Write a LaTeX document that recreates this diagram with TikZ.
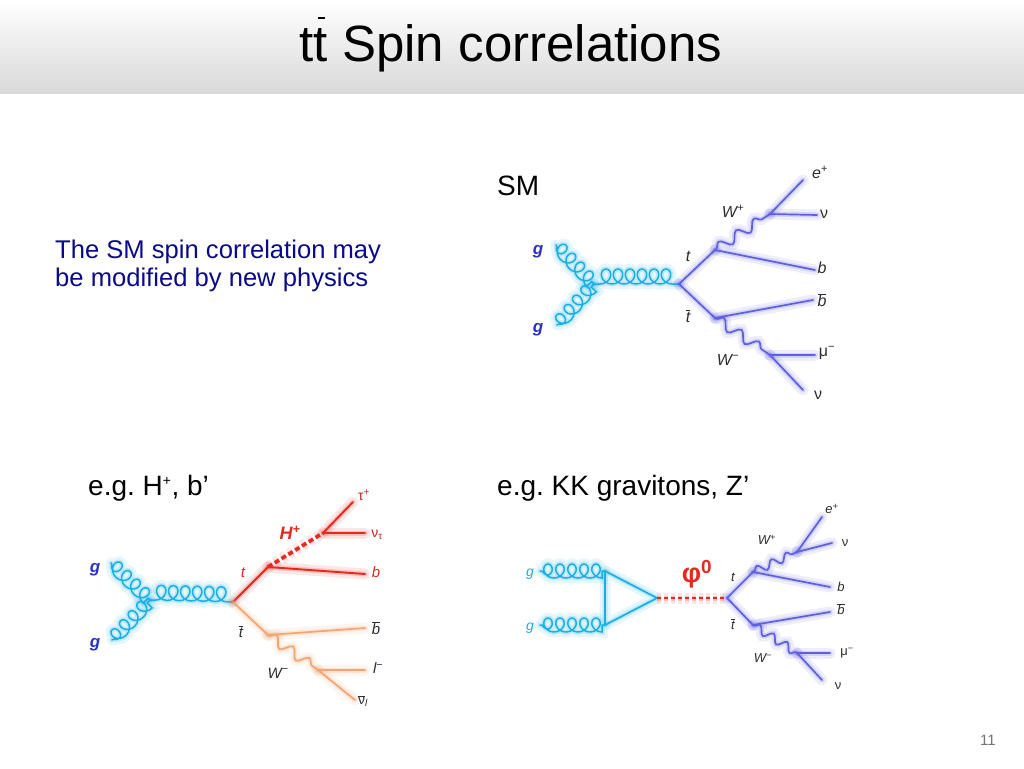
\documentclass[tikz,border=0pt]{standalone}
\usepackage{fontspec}
\setmainfont{Liberation Sans}
\usetikzlibrary{decorations}
\definecolor{navy}{RGB}{10,10,140}
\definecolor{fblue}{RGB}{95,95,225}
\definecolor{fcyan}{RGB}{25,175,230}
\definecolor{fred}{RGB}{230,40,30}
\definecolor{forange}{RGB}{242,165,115}
\definecolor{glab}{RGB}{40,50,200}
\definecolor{tgray}{RGB}{45,45,45}
\newcommand\ovl[1]{\ensuremath{\overline{\hbox{#1}}}}
\newcommand\tbr{\rlap{\hspace{0.07em}\rule[0.82em]{0.14em}{0.045em}}t}
\newcommand\gdraw[2]{\draw[#1,glowA]#2;\draw[#1,glowB]#2;\draw[#1]#2;}
\def\gluonoff{0}
% gluon loops: prolate trochoid x = a t + b sin t, y = off + b(1-cos t)
\pgfdeclaredecoration{gloop}{initial}{
  \state{initial}[width=\pgfdecorationsegmentlength,next state=initial]{
    \pgfmathsetmacro\ga{\pgfdecorationsegmentlength/6.28319}
    \pgfmathsetmacro\gb{\pgfdecorationsegmentamplitude}
    \pgfmathsetmacro\gk{0.55}
    \pgfmathsetmacro\go{\gluonoff}
    \pgfmathsetmacro\xA{\gk*(\ga+\gb)}
    \pgfmathsetmacro\xB{\ga*1.5708+\gb}
    \pgfmathsetmacro\xBm{\xB-\gk*\ga}
    \pgfmathsetmacro\xBp{\xB+\gk*\ga}
    \pgfmathsetmacro\xC{\ga*3.14159}
    \pgfmathsetmacro\xCm{\xC-\gk*(\ga-\gb)}
    \pgfmathsetmacro\xCp{\xC+\gk*(\ga-\gb)}
    \pgfmathsetmacro\xD{\ga*4.71239-\gb}
    \pgfmathsetmacro\xDm{\xD-\gk*\ga}
    \pgfmathsetmacro\xDp{\xD+\gk*\ga}
    \pgfmathsetmacro\xE{\ga*6.28319}
    \pgfmathsetmacro\xEm{\xE-\gk*(\ga+\gb)}
    \pgfmathsetmacro\yZ{\go}
    \pgfmathsetmacro\yBm{\go+\gb-\gk*\gb}
    \pgfmathsetmacro\yB{\go+\gb}
    \pgfmathsetmacro\yBp{\go+\gb+\gk*\gb}
    \pgfmathsetmacro\yC{\go+2*\gb}
    \pgfpathcurveto{\pgfpoint{\xA pt}{\yZ pt}}{\pgfpoint{\xBm pt}{\yBm pt}}{\pgfpoint{\xB pt}{\yB pt}}
    \pgfpathcurveto{\pgfpoint{\xBp pt}{\yBp pt}}{\pgfpoint{\xCm pt}{\yC pt}}{\pgfpoint{\xC pt}{\yC pt}}
    \pgfpathcurveto{\pgfpoint{\xCp pt}{\yC pt}}{\pgfpoint{\xDm pt}{\yBp pt}}{\pgfpoint{\xD pt}{\yB pt}}
    \pgfpathcurveto{\pgfpoint{\xDp pt}{\yBm pt}}{\pgfpoint{\xEm pt}{\yZ pt}}{\pgfpoint{\xE pt}{\yZ pt}}
  }
  \state{final}{\pgfpathlineto{\pgfpointdecoratedpathlast}}
}
\tikzset{
  x=1pt,y=-1pt,
  glowA/.style={line width=11pt,opacity=0.11,shift={(2,2)}},
  glowB/.style={line width=5pt,opacity=0.18,shift={(1,1)}},
  fb/.style={draw=fblue,line width=1.7pt,line cap=round},
  fr/.style={draw=fred,line width=1.9pt,line cap=round},
  fo/.style={draw=forange,line width=1.7pt,line cap=round},
  fc/.style={draw=fcyan,line width=1.7pt,line cap=round,line join=round},
  goff/.code={\def\gluonoff{#1}},
  gluon/.style n args={4}{draw=fcyan,line width=1.5pt,line cap=round,goff={#4},decorate,decoration={gloop,amplitude=#1,segment length=#2,pre length=#3,post length=#3}},
  wav/.style 2 args={decorate,decoration={snake,amplitude=#1,segment length=#2,pre length=1pt,post length=1pt}},
  lab/.style={font=\fontsize{16}{16}\selectfont\itshape,text=tgray,inner sep=0pt},
  labs/.style={font=\fontsize{13}{13}\selectfont\itshape,text=tgray,inner sep=0pt},
  glb/.style={font=\fontsize{17}{17}\selectfont\bfseries\itshape,text=glab,inner sep=0pt},
  txt/.style={inner sep=0pt,anchor=base west,text=black},
}
\usetikzlibrary{decorations.pathmorphing}
\begin{document}
\frenchspacing
\begin{tikzpicture}
\useasboundingbox (0,0) rectangle (1024,768);
\fill[white] (0,0) rectangle (1024,768);
\shade[top color=white,bottom color=black!15] (0,0) rectangle (1024,93);
\node[inner sep=0pt,anchor=base,font=\fontsize{51}{51}\selectfont] (title) at (511,61) {t\tbr{} Spin correlations};

% texts
\node[txt,text=navy,font=\fontsize{25.6}{28}\selectfont,align=left,anchor=north west] (intro) at (55,240)
  {The SM spin correlation may\\be modified by new physics};
\node[txt,font=\fontsize{28}{28}\selectfont] (smt) at (497,195) {SM};
\node[txt,font=\fontsize{28}{28}\selectfont] (hpt) at (88,495) {e.g. H\textsuperscript{\fontsize{14}{14}\selectfont +}, b’};
\node[txt,font=\fontsize{28}{28}\selectfont] (kkt) at (497,495) {e.g. KK gravitons, Z’};
\node[inner sep=0pt,text=black!55,font=\fontsize{15}{15}\selectfont] (pg) at (988,740) {11};

% ================= SM diagram =================
\coordinate (sg1) at (556,245);
\coordinate (sg2) at (557,325);
\coordinate (sj) at (594,284);
\coordinate (sv) at (679,284);
\coordinate (st) at (715,250);
\coordinate (stb) at (715,318);
\coordinate (swp) at (770,214);
\coordinate (swm) at (770,355);
\coordinate (sep) at (803,180);
\coordinate (snu1) at (817,215);
\coordinate (sb) at (815,270);
\coordinate (sbb) at (813,300);
\coordinate (smu) at (815,355);
\coordinate (snu2) at (803,390);
\gdraw{gluon={7pt}{12.5pt}{1pt}{-7}}{(sg1) -- (sj)}
\gdraw{gluon={7pt}{12.5pt}{1pt}{-7}}{(sg2) -- (sj)}
\gdraw{gluon={7.5pt}{12pt}{6pt}{0}}{(sj) -- (sv)}
\gdraw{fb}{(sv) -- (st)}
\gdraw{fb}{(sv) -- (stb)}
\gdraw{fb}{(st) -- (sb)}
\gdraw{fb}{(stb) -- (sbb)}
\gdraw{fb,wav={5pt}{21pt}}{(st) -- (swp)}
\gdraw{fb,wav={5pt}{21pt}}{(stb) -- (swm)}
\gdraw{fb}{(swp) -- (sep)}
\gdraw{fb}{(swp) -- (snu1)}
\gdraw{fb}{(swm) -- (smu)}
\gdraw{fb}{(swm) -- (snu2)}
\node[glb] (sgl1) at (538,252) {g};
\node[glb] (sgl2) at (538,330) {g};
\node[lab] (slt) at (688,256) {t};
\node[lab] (sltb) at (688,316) {\ovl{t}};
\node[lab] (slwp) at (733,211) {W\textsuperscript{+}};
\node[lab] (slwm) at (728,360) {W\textsuperscript{−}};
\node[lab] (slep) at (820,172) {e\textsuperscript{+}};
\node[lab,font=\fontsize{16}{16}\selectfont] (slnu1) at (824,214) {ν};
\node[lab] (slb) at (822,268) {b};
\node[lab] (slbb) at (822,300) {\ovl{b}};
\node[lab,font=\fontsize{16}{16}\selectfont] (slmu) at (827,353) {μ\textsuperscript{−}};
\node[lab,font=\fontsize{16}{16}\selectfont] (slnu2) at (818,395) {ν};

% ================= H+ diagram =================
\coordinate (lg1) at (111,563);
\coordinate (lg2) at (112,640);
\coordinate (lj) at (150,600);
\coordinate (lv) at (233,602);
\coordinate (lt) at (268,567);
\coordinate (lh) at (323,533);
\coordinate (ltau) at (353,502);
\coordinate (lnut) at (365,533);
\coordinate (lb) at (365,574);
\coordinate (ltb) at (268,635);
\coordinate (lbb) at (365,628);
\coordinate (lw) at (318,670);
\coordinate (ll) at (365,670);
\coordinate (lnul) at (355,700);
\gdraw{gluon={7pt}{12.5pt}{1pt}{-7}}{(lg1) -- (lj)}
\gdraw{gluon={7pt}{12.5pt}{1pt}{-7}}{(lg2) -- (lj)}
\gdraw{gluon={7.5pt}{12pt}{5pt}{0}}{(lj) -- (lv)}
\gdraw{fr}{(lv) -- (lt)}
\gdraw{fr}{(lt) -- (lb)}
\gdraw{fr,line width=3.5pt,line cap=butt,dash pattern=on 5pt off 3pt}{(lt) -- (lh)}
\gdraw{fr}{(lh) -- (ltau)}
\gdraw{fr}{(lh) -- (lnut)}
\gdraw{fo}{(lv) -- (ltb)}
\gdraw{fo}{(ltb) -- (lbb)}
\gdraw{fo,wav={5pt}{20pt}}{(ltb) -- (lw)}
\gdraw{fo}{(lw) -- (ll)}
\gdraw{fo}{(lw) -- (lnul)}
\node[glb] (lgl1) at (95,570) {g};
\node[glb] (lgl2) at (95,645) {g};
\node[lab,font=\fontsize{15}{15}\selectfont\itshape,text=fred] (llt) at (243,573) {t};
\node[lab,font=\fontsize{18}{18}\selectfont\bfseries\itshape,text=fred] (llh) at (290,533) {H\textsuperscript{+}};
\node[lab,font=\fontsize{14}{14}\selectfont,text=fred!85!black] (lltau) at (364,495) {τ\textsuperscript{+}};
\node[lab,font=\fontsize{14}{14}\selectfont,text=fred!85!black] (llnut) at (377,535) {ν\textsubscript{τ}};
\node[lab,font=\fontsize{15}{15}\selectfont\itshape,text=fred] (llb) at (376,572) {b};
\node[lab,font=\fontsize{15}{15}\selectfont\itshape] (lltb) at (241,632) {\ovl{t}};
\node[lab,font=\fontsize{15}{15}\selectfont\itshape] (llbb) at (376,628) {\ovl{b}};
\node[lab,font=\fontsize{15}{15}\selectfont\itshape] (llw) at (278,673) {W\textsuperscript{−}};
\node[lab,font=\fontsize{15}{15}\selectfont\itshape] (lll) at (378,668) {l\textsuperscript{−}};
\node[lab,font=\fontsize{14}{14}\selectfont] (llnul) at (363,701) {\ovl{ν}\textsubscript{\itshape l}};

% ================= KK diagram =================
\coordinate (rg1s) at (540,571);
\coordinate (rg1e) at (605,571);
\coordinate (rg2s) at (540,625);
\coordinate (rg2e) at (605,625);
\coordinate (rtip) at (657,598);
\coordinate (rv) at (727,598);
\coordinate (rt) at (753,572);
\coordinate (rtb) at (753,625);
\coordinate (rwp) at (797,552);
\coordinate (rwm) at (797,653);
\coordinate (rep) at (822,517);
\coordinate (rnu1) at (832,543);
\coordinate (rb) at (830,587);
\coordinate (rbb) at (830,612);
\coordinate (rmu) at (830,653);
\coordinate (rnu2) at (822,680);
\gdraw{gluon={7pt}{12pt}{2pt}{-7}}{(rg1s) -- (rg1e)}
\gdraw{gluon={7pt}{12pt}{2pt}{-7}}{(rg2s) -- (rg2e)}
\gdraw{fc}{(rg1e) -- (rg2e) -- (rtip) -- cycle}
\gdraw{draw=fred,line width=1.5pt,dash pattern=on 4pt off 3pt}{(rtip) -- (rv)}
\gdraw{fb}{(rv) -- (rt)}
\gdraw{fb}{(rv) -- (rtb)}
\gdraw{fb}{(rt) -- (rb)}
\gdraw{fb}{(rtb) -- (rbb)}
\gdraw{fb,wav={4pt}{16pt}}{(rt) -- (rwp)}
\gdraw{fb,wav={4pt}{16pt}}{(rtb) -- (rwm)}
\gdraw{fb}{(rwp) -- (rep)}
\gdraw{fb}{(rwp) -- (rnu1)}
\gdraw{fb}{(rwm) -- (rmu)}
\gdraw{fb}{(rwm) -- (rnu2)}
\node[lab,font=\fontsize{14}{14}\selectfont\itshape,text=fcyan] (rgl1) at (530,574) {g};
\node[lab,font=\fontsize{14}{14}\selectfont\itshape,text=fcyan] (rgl2) at (530,628) {g};
\node[lab,font=\fontsize{27}{27}\selectfont\bfseries,text=fred] (rphi) at (697,574) {φ\textsuperscript{0}};
\node[labs] (rlt) at (733,577) {t};
\node[labs] (rltb) at (733,624) {\ovl{t}};
\node[labs] (rlwp) at (767,540) {W\textsuperscript{+}};
\node[labs] (rlwm) at (763,658) {W\textsuperscript{−}};
\node[labs] (rlep) at (832,509) {e\textsuperscript{+}};
\node[labs,font=\fontsize{13}{13}\selectfont] (rlnu1) at (845,543) {ν};
\node[labs] (rlb) at (841,587) {b};
\node[labs] (rlbb) at (841,609) {\ovl{b}};
\node[labs,font=\fontsize{13}{13}\selectfont] (rlmu) at (847,653) {μ\textsuperscript{−}};
\node[labs,font=\fontsize{13}{13}\selectfont] (rlnu2) at (838,686) {ν};
\end{tikzpicture}
\end{document}
